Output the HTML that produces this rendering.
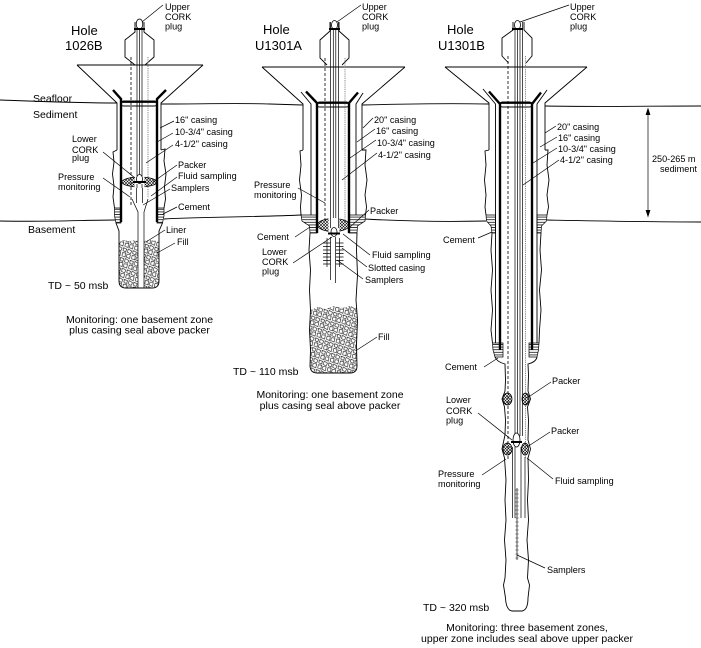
<!DOCTYPE html>
<html><head><meta charset="utf-8"><style>
html,body{margin:0;padding:0;background:#fff;}
svg{display:block;}
.t{stroke:#000;stroke-width:0.9;fill:none;}
.n{stroke:#000;stroke-width:0.7;fill:none;}
.k{stroke:#000;stroke-width:2.4;fill:none;}
.d{stroke:#000;stroke-width:0.8;fill:none;stroke-dasharray:3,2;}
.g{stroke:#888;stroke-width:1;fill:none;stroke-dasharray:1.2,1;}
.l{stroke:#000;stroke-width:0.7;fill:none;}
text{font-family:"Liberation Sans",Arial,sans-serif;fill:#000;}
.s{font-size:9.1px;}
.m{font-size:10.5px;}
.h{font-size:13px;}
</style></head><body>
<svg width="701" height="648" viewBox="0 0 701 648" xmlns="http://www.w3.org/2000/svg">
<defs>
<pattern id="xh" width="3" height="3" patternUnits="userSpaceOnUse"><path d="M0,0 L3,3 M3,0 L0,3" stroke="#000" stroke-width="0.55"/></pattern>
<pattern id="hz" width="4" height="2.6" patternUnits="userSpaceOnUse"><path d="M0,1.3 H4" stroke="#000" stroke-width="0.75"/></pattern>
<pattern id="rock" width="10" height="10" patternUnits="userSpaceOnUse" patternTransform="rotate(17)">
<path d="M0.6,0.8 L4.2,1.2 L3.8,4.2 L1,3.8 Z M5.6,0.5 L9.4,1.6 L8.8,4.6 L5.4,3.9 Z M1.1,5.7 L4.4,5.2 L4.7,9.2 L1.4,9 Z M6,5.9 L9.2,5.5 L9.5,9.4 L5.7,8.9 Z" fill="none" stroke="#000" stroke-width="0.55"/>
</pattern>
</defs>
<rect width="701" height="648" fill="#fff"/>

<!-- Seafloor & basement lines -->
<path class="t" d="M0,100 C30,101 70,103 117,103"/>
<path class="t" d="M161,104 C200,104 240,103 270,104 S300,105 303,105"/>
<path class="t" d="M362,105 C400,104 440,103 489,104"/>
<path class="t" d="M545,106 C600,107 650,106 701,106"/>
<path class="t" d="M0,221 C40,222 90,220 115,220"/>
<path class="t" d="M164,219 C200,217 260,217 302,215"/>
<path class="t" d="M365,219 C400,221 440,222 486,221"/>
<path class="t" d="M547,220 C600,221 650,222 701,222"/>

<!-- ========== HOLE 1026B ========== -->
<path class="t" d="M77,65 H203 M77,65 L117,103 V150 M203,65 L161,103 V150"/>
<path class="t" d="M135,22 V32 L125,40 V57 L135,65 M144,22 V32 L154,40 V57 L145,65"/>
<path class="n" d="M137,22 V178 M142,22 V178 M139.5,30 V178"/>
<path class="d" d="M131,57 V207"/>
<path class="g" d="M148,57 V198"/>
<ellipse cx="139.5" cy="24" rx="3.3" ry="5" fill="#fff" stroke="#000" stroke-width="0.8"/>
<path d="M134,29 H145" stroke="#000" stroke-width="2"/>
<path class="k" d="M113,90 L121,99 V222 M166,90 L157,99 V222"/>
<rect x="121" y="101" width="36" height="5" rx="2.5" fill="none" stroke="#000" stroke-width="0.9"/>
<path d="M121,102 H157" stroke="#000" stroke-width="1.8"/>
<path class="t" d="M117,150 L113,152 L114,162 L112.5,174 L114,186 L113,197 L114.5,208 M161,150 L165,149 L164,161 L166,174 L164.5,187 L165.5,199 L164,208"/>
<path d="M114.5,208 H121 V223 H116 L114.5,216 Z M157,208 H164 L164,216 L162.5,223 H157 Z" fill="url(#hz)" stroke="#000" stroke-width="0.7"/>
<path d="M119,242 L124,240 L130,241 L138,240 V288 H126 Q119,288 119,281 Z M144,241 L150,240 L159,241 V281 Q159,288 152,288 H144 Z" fill="url(#rock)" stroke="none"/>
<path class="t" d="M116,223 L119,231 V281 Q119,288 126,288 H152 Q159,288 159,281 V231 L162.5,223"/>
<path class="n" d="M132,199 L138,212 V288 M148,199 L144,212 V288 M136.5,187 V203 M142.5,187 V203"/>
<ellipse cx="139.5" cy="182" rx="17.5" ry="5" fill="url(#xh)" stroke="#000" stroke-width="0.8"/>
<rect x="134.5" y="176" width="10" height="12" fill="#fff"/>
<path class="n" d="M137,184 V188 M142,184 V188"/>
<ellipse cx="139.5" cy="179" rx="3" ry="4.5" fill="#fff" stroke="#000" stroke-width="0.8"/>
<path d="M133,182 H146" stroke="#000" stroke-width="2"/>

<!-- labels 1026B -->
<text class="h" x="71" y="35">Hole</text>
<text class="h" x="65" y="50">1026B</text>
<text class="s" x="165" y="10">Upper</text>
<text class="s" x="165" y="20">CORK</text>
<text class="s" x="165" y="29.5">plug</text>
<path class="l" d="M163,5 L142,22"/>
<text class="m" x="33" y="102">Seafloor</text>
<text class="m" x="33" y="118">Sediment</text>
<text class="m" x="28" y="233">Basement</text>
<text class="s" x="72" y="142">Lower</text>
<text class="s" x="72" y="153">CORK</text>
<text class="s" x="72" y="161">plug</text>
<path class="l" d="M103,152 L135,178"/>
<text class="s" x="58" y="180">Pressure</text>
<text class="s" x="58" y="190">monitoring</text>
<path class="l" d="M103,178 L130,197"/>
<text class="s" x="175" y="123">16" casing</text>
<path class="l" d="M174,121 L160,128"/>
<text class="s" x="175" y="135">10-3/4" casing</text>
<path class="l" d="M173,133 L157,142"/>
<text class="s" x="175" y="147">4-1/2" casing</text>
<path class="l" d="M173,145 L146,163"/>
<text class="s" x="178" y="168">Packer</text>
<path class="l" d="M177,165 L153,182"/>
<text class="s" x="178" y="179">Fluid sampling</text>
<path class="l" d="M177,177 L151,196"/>
<text class="s" x="171" y="191">Samplers</text>
<path class="l" d="M170,189 L143,205"/>
<text class="s" x="178" y="210">Cement</text>
<path class="l" d="M177,207 L163,214"/>
<text class="s" x="166" y="233">Liner</text>
<path class="l" d="M165,230 L146,242"/>
<text class="s" x="177" y="245">Fill</text>
<path class="l" d="M175,243 L157,253"/>
<text class="m" x="48" y="289">TD ~ 50 msb</text>
<text class="m" x="139.5" y="323" text-anchor="middle">Monitoring: one basement zone</text>
<text class="m" x="139.5" y="333.5" text-anchor="middle">plus casing seal above packer</text>

<!-- ========== HOLE U1301A ========== -->
<path class="t" d="M262,67 H405 M262,67 L303,104 V150 M405,67 L362,104 V150"/>
<path class="t" d="M330,22 V31 L320,40 V58 L327,65 M339,22 V31 L349,40 V58 L342,65"/>
<path class="n" d="M330.5,22 V230 M338.5,22 V230 M333.3,30 V230 M335.8,30 V230"/>
<path class="d" d="M325,58 V221"/>
<path class="g" d="M345,58 V222"/>
<ellipse cx="334.5" cy="25" rx="3" ry="4.5" fill="#fff" stroke="#000" stroke-width="0.8"/>
<path d="M329,29 H340" stroke="#000" stroke-width="2"/>
<path class="t" d="M301,92 L311,104 V215 M363,93 L356,104 V215"/>
<path class="k" d="M306,91.5 L317,103 V233 M358,92.5 L349,103 V233"/>
<rect x="317" y="102" width="32" height="5" rx="2.5" fill="none" stroke="#000" stroke-width="0.9"/>
<path d="M317,103 H349" stroke="#000" stroke-width="1.8"/>
<path class="t" d="M303,150 L300,151 L301,165 L299.5,180 L301.5,195 L300.5,207 L301,215 M362,150 L366,150 L365,165 L367,180 L365,195 L366.5,207 L365.5,215"/>
<path d="M301,215 H317 V233 H310 L309.5,226 L302,221 Z M349,215 H365.5 L365,221 L357.5,226 L357,233 H349 Z" fill="url(#hz)" stroke="#000" stroke-width="0.7"/>
<path d="M310,310 L318,307 L326,309 L334,306 L342,308 L350,306 L357,308 L357,366 Q357,373 350,373 H317 Q310,373 310,366 Z" fill="url(#rock)" stroke="none"/>
<path class="t" d="M310,233 L309,250 L310.5,270 L309.5,290 L310.5,310 L309.5,330 L310.5,350 L310,366 Q310.5,373 317,373 H350 Q357,373 357,366 L356.5,345 L357.5,320 L356,300 L357.5,275 L356.5,250 L357,233"/>
<ellipse cx="333.5" cy="225" rx="16" ry="6.5" fill="url(#xh)" stroke="#000" stroke-width="0.8"/>
<rect x="328.5" y="218" width="11" height="17" fill="#fff"/>
<path class="n" d="M330.5,218 V228 M338.5,218 V228"/>
<ellipse cx="334" cy="232" rx="3" ry="4.5" fill="#fff" stroke="#000" stroke-width="0.8"/>
<path d="M328,233.5 H340" stroke="#000" stroke-width="2"/>
<path class="n" d="M327,238 V267 M330.5,237 V280 M335.5,237 V283 M339.5,238 V267"/>
<path class="n" d="M323,243 H330.5 M336,243 H343.5 M323,246.5 H330.5 M336,246.5 H343.5 M323,250 H330.5 M336,250 H343.5 M323,253.5 H330.5 M336,253.5 H343.5 M323,257 H330.5 M336,257 H343.5 M323,260.5 H330.5 M336,260.5 H343.5 M323,264 H330.5 M336,264 H343.5"/>

<!-- labels U1301A -->
<text class="h" x="263" y="34">Hole</text>
<text class="h" x="255" y="50">U1301A</text>
<text class="s" x="362" y="10">Upper</text>
<text class="s" x="362" y="20">CORK</text>
<text class="s" x="362" y="29.5">plug</text>
<path class="l" d="M361,5 L337,22"/>
<text class="s" x="374" y="123">20" casing</text>
<path class="l" d="M373,118 L363,128"/>
<text class="s" x="376" y="134">16" casing</text>
<path class="l" d="M375,129 L357,142"/>
<text class="s" x="377" y="146">10-3/4" casing</text>
<path class="l" d="M376,140 L350,158"/>
<text class="s" x="378" y="158">4-1/2" casing</text>
<path class="l" d="M377,153 L342,180"/>
<text class="s" x="254" y="188">Pressure</text>
<text class="s" x="254" y="198">monitoring</text>
<path class="l" d="M298,188 L325,203"/>
<text class="s" x="370" y="214">Packer</text>
<path class="l" d="M369,210 L350,227"/>
<text class="s" x="257" y="240">Cement</text>
<path class="l" d="M295,237 L310,227"/>
<text class="s" x="262" y="255">Lower</text>
<text class="s" x="262" y="265">CORK</text>
<text class="s" x="262" y="274.5">plug</text>
<path class="l" d="M293,263 L332,237"/>
<text class="s" x="372" y="258">Fluid sampling</text>
<path class="l" d="M370,255 L343,234"/>
<text class="s" x="368" y="271">Slotted casing</text>
<path class="l" d="M367,267 L342,248"/>
<text class="s" x="365" y="283">Samplers</text>
<path class="l" d="M363,279 L337,260"/>
<text class="s" x="378" y="340">Fill</text>
<path class="l" d="M377,337 L357,350"/>
<text class="m" x="233" y="375">TD ~ 110 msb</text>
<text class="m" x="330" y="398" text-anchor="middle">Monitoring: one basement zone</text>
<text class="m" x="330" y="409" text-anchor="middle">plus casing seal above packer</text>

<!-- ========== HOLE U1301B ========== -->
<path class="t" d="M445,67 H587 M445,67 L489,103 V150 M587,67 L545,103 V150"/>
<path class="t" d="M513,22 V30 L502,38 V56 L508.5,63 M524,22 V30 L532,38 V56 L526,63"/>
<path class="n" d="M515,22 V436 M522.5,22 V436 M517.5,30 V436 M520,30 V436"/>
<path class="d" d="M508,56 V460"/>
<path class="g" d="M525.5,56 V458"/>
<ellipse cx="517.5" cy="25" rx="3" ry="4.5" fill="#fff" stroke="#000" stroke-width="0.8"/>
<path d="M512,29 H523" stroke="#000" stroke-width="2"/>
<path class="t" d="M483,89 L495.5,104 V343 M547,90 L537,104 V343"/>
<path class="k" d="M489,91.5 L500,104 V350 M541,92.5 L532,104 V350"/>
<rect x="500" y="102" width="32" height="5" rx="2.5" fill="none" stroke="#000" stroke-width="0.9"/>
<path d="M500,103 H532" stroke="#000" stroke-width="1.8"/>
<path class="t" d="M489,150 L485,151 L486,165 L484.5,180 L486,195 L485,207 L486,215 M545,150 L548,150 L547,165 L549,180 L547,195 L548.5,207 L547,215"/>
<path d="M486,215 H495.5 V233 H492 L491,226 L486.5,221 Z M537,215 H547 L546.5,221 L541.5,226 L541,233 H537 Z" fill="url(#hz)" stroke="#000" stroke-width="0.7"/>
<path class="t" d="M492,233 L491,250 L492.5,270 L491,290 L492.5,310 L491,330 L492.5,343 M541,233 L540,250 L541.5,270 L539.5,290 L541,310 L539.5,330 L539,343"/>
<path d="M492.5,343 H503 V357 H495 L493,350 Z M529,343 H539 L538.5,350 L537,357 H529 Z" fill="url(#hz)" stroke="#000" stroke-width="0.7"/>
<path class="t" d="M495,357 Q497,362 505,364 L505.5,380 L505,391 L502,399 L504.5,407 L505.5,420 L505,435 L502,449 L504.5,458 L506,480 L505,500 L506,520 L504.5,540 L506,560 L505,578 L503.5,585 L505.5,598 Q506,610 512,611 H522 Q528,610 528,598 L529.5,585 L527.5,578 L528.5,560 L527,540 L528.5,520 L527.5,500 L528.5,480 L528,458 L530.5,449 L528,440 L528.5,420 L527.5,407 L530.5,399 L528,391 L528.5,375 L528,364 Q536,362 537,357"/>
<ellipse cx="507.5" cy="399" rx="4.5" ry="6" fill="url(#xh)" stroke="#000" stroke-width="0.8"/>
<ellipse cx="525.5" cy="399" rx="3.5" ry="6" fill="url(#xh)" stroke="#000" stroke-width="0.8"/>
<ellipse cx="507.5" cy="449" rx="4.5" ry="6" fill="url(#xh)" stroke="#000" stroke-width="0.8"/>
<ellipse cx="525" cy="449" rx="3.5" ry="6" fill="url(#xh)" stroke="#000" stroke-width="0.8"/>
<ellipse cx="516.5" cy="440" rx="3.5" ry="7" fill="#fff" stroke="#000" stroke-width="0.8"/>
<path d="M511,442 H522" stroke="#000" stroke-width="2"/>
<path class="n" d="M512.5,447 V518 M515,447 V518 M521,447 V518 M525,457 V518"/>
<path d="M517,488 L518.3,490 L517,492 L515.7,490 Z M517,492 L518.3,494 L517,496 L515.7,494 Z M517,496 L518.3,498 L517,500 L515.7,498 Z M517,500 L518.3,502 L517,504 L515.7,502 Z M517,504 L518.3,506 L517,508 L515.7,506 Z M517,508 L518.3,510 L517,512 L515.7,510 Z M517,512 L518.3,514 L517,516 L515.7,514 Z M517,516 L518.3,518 L517,520 L515.7,518 Z M517,520 L518.3,522 L517,524 L515.7,522 Z M517,524 L518.3,526 L517,528 L515.7,526 Z M517,528 L518.3,530 L517,532 L515.7,530 Z M517,532 L518.3,534 L517,536 L515.7,534 Z M517,536 L518.3,538 L517,540 L515.7,538 Z M517,540 L518.3,542 L517,544 L515.7,542 Z M517,544 L518.3,546 L517,548 L515.7,546 Z M517,548 L518.3,550 L517,552 L515.7,550 Z M517,552 L518.3,554 L517,556 L515.7,554 Z M517,556 L518.3,558 L517,560 L515.7,558 Z" fill="#999" stroke="#444" stroke-width="0.4"/>
<!-- dimension -->
<path class="n" d="M648,109 V216"/>
<path d="M645.6,115 L648,107.5 L650.4,115 Z M645.6,210 L648,217.5 L650.4,210 Z" fill="#000"/>

<!-- labels U1301B -->
<text class="h" x="447" y="34">Hole</text>
<text class="h" x="438" y="50">U1301B</text>
<text class="s" x="570" y="10">Upper</text>
<text class="s" x="570" y="20">CORK</text>
<text class="s" x="570" y="29.5">plug</text>
<path class="l" d="M569,5 L520,22"/>
<text class="s" x="557" y="130">20" casing</text>
<path class="l" d="M556,126 L545,133"/>
<text class="s" x="558" y="141">16" casing</text>
<path class="l" d="M557,137 L540,147"/>
<text class="s" x="558" y="152">10-3/4" casing</text>
<path class="l" d="M557,148 L533,163"/>
<text class="s" x="560" y="163">4-1/2" casing</text>
<path class="l" d="M559,160 L523,185"/>
<text class="s" x="652" y="162">250-265 m</text>
<text class="s" x="660" y="172">sediment</text>
<text class="s" x="443" y="243">Cement</text>
<path class="l" d="M478,238 L492,232"/>
<text class="s" x="445" y="370">Cement</text>
<path class="l" d="M484,367 L498,358"/>
<text class="s" x="552" y="384">Packer</text>
<path class="l" d="M551,382 L527,398"/>
<text class="s" x="446" y="403">Lower</text>
<text class="s" x="446" y="414">CORK</text>
<text class="s" x="446" y="423.5">plug</text>
<path class="l" d="M478,413 L512,440"/>
<text class="s" x="551" y="434">Packer</text>
<path class="l" d="M550,432 L527,447"/>
<text class="s" x="438" y="477">Pressure</text>
<text class="s" x="438" y="487">monitoring</text>
<path class="l" d="M482,475 L506,459"/>
<text class="s" x="555" y="484">Fluid sampling</text>
<path class="l" d="M553,479 L527,458"/>
<text class="s" x="547" y="573">Samplers</text>
<path class="l" d="M545,568 L517,555"/>
<text class="m" x="423" y="611">TD ~ 320 msb</text>
<text class="m" x="527" y="631" text-anchor="middle">Monitoring: three basement zones,</text>
<text class="m" x="527" y="642" text-anchor="middle">upper zone includes seal above upper packer</text>
</svg>
</body></html>
